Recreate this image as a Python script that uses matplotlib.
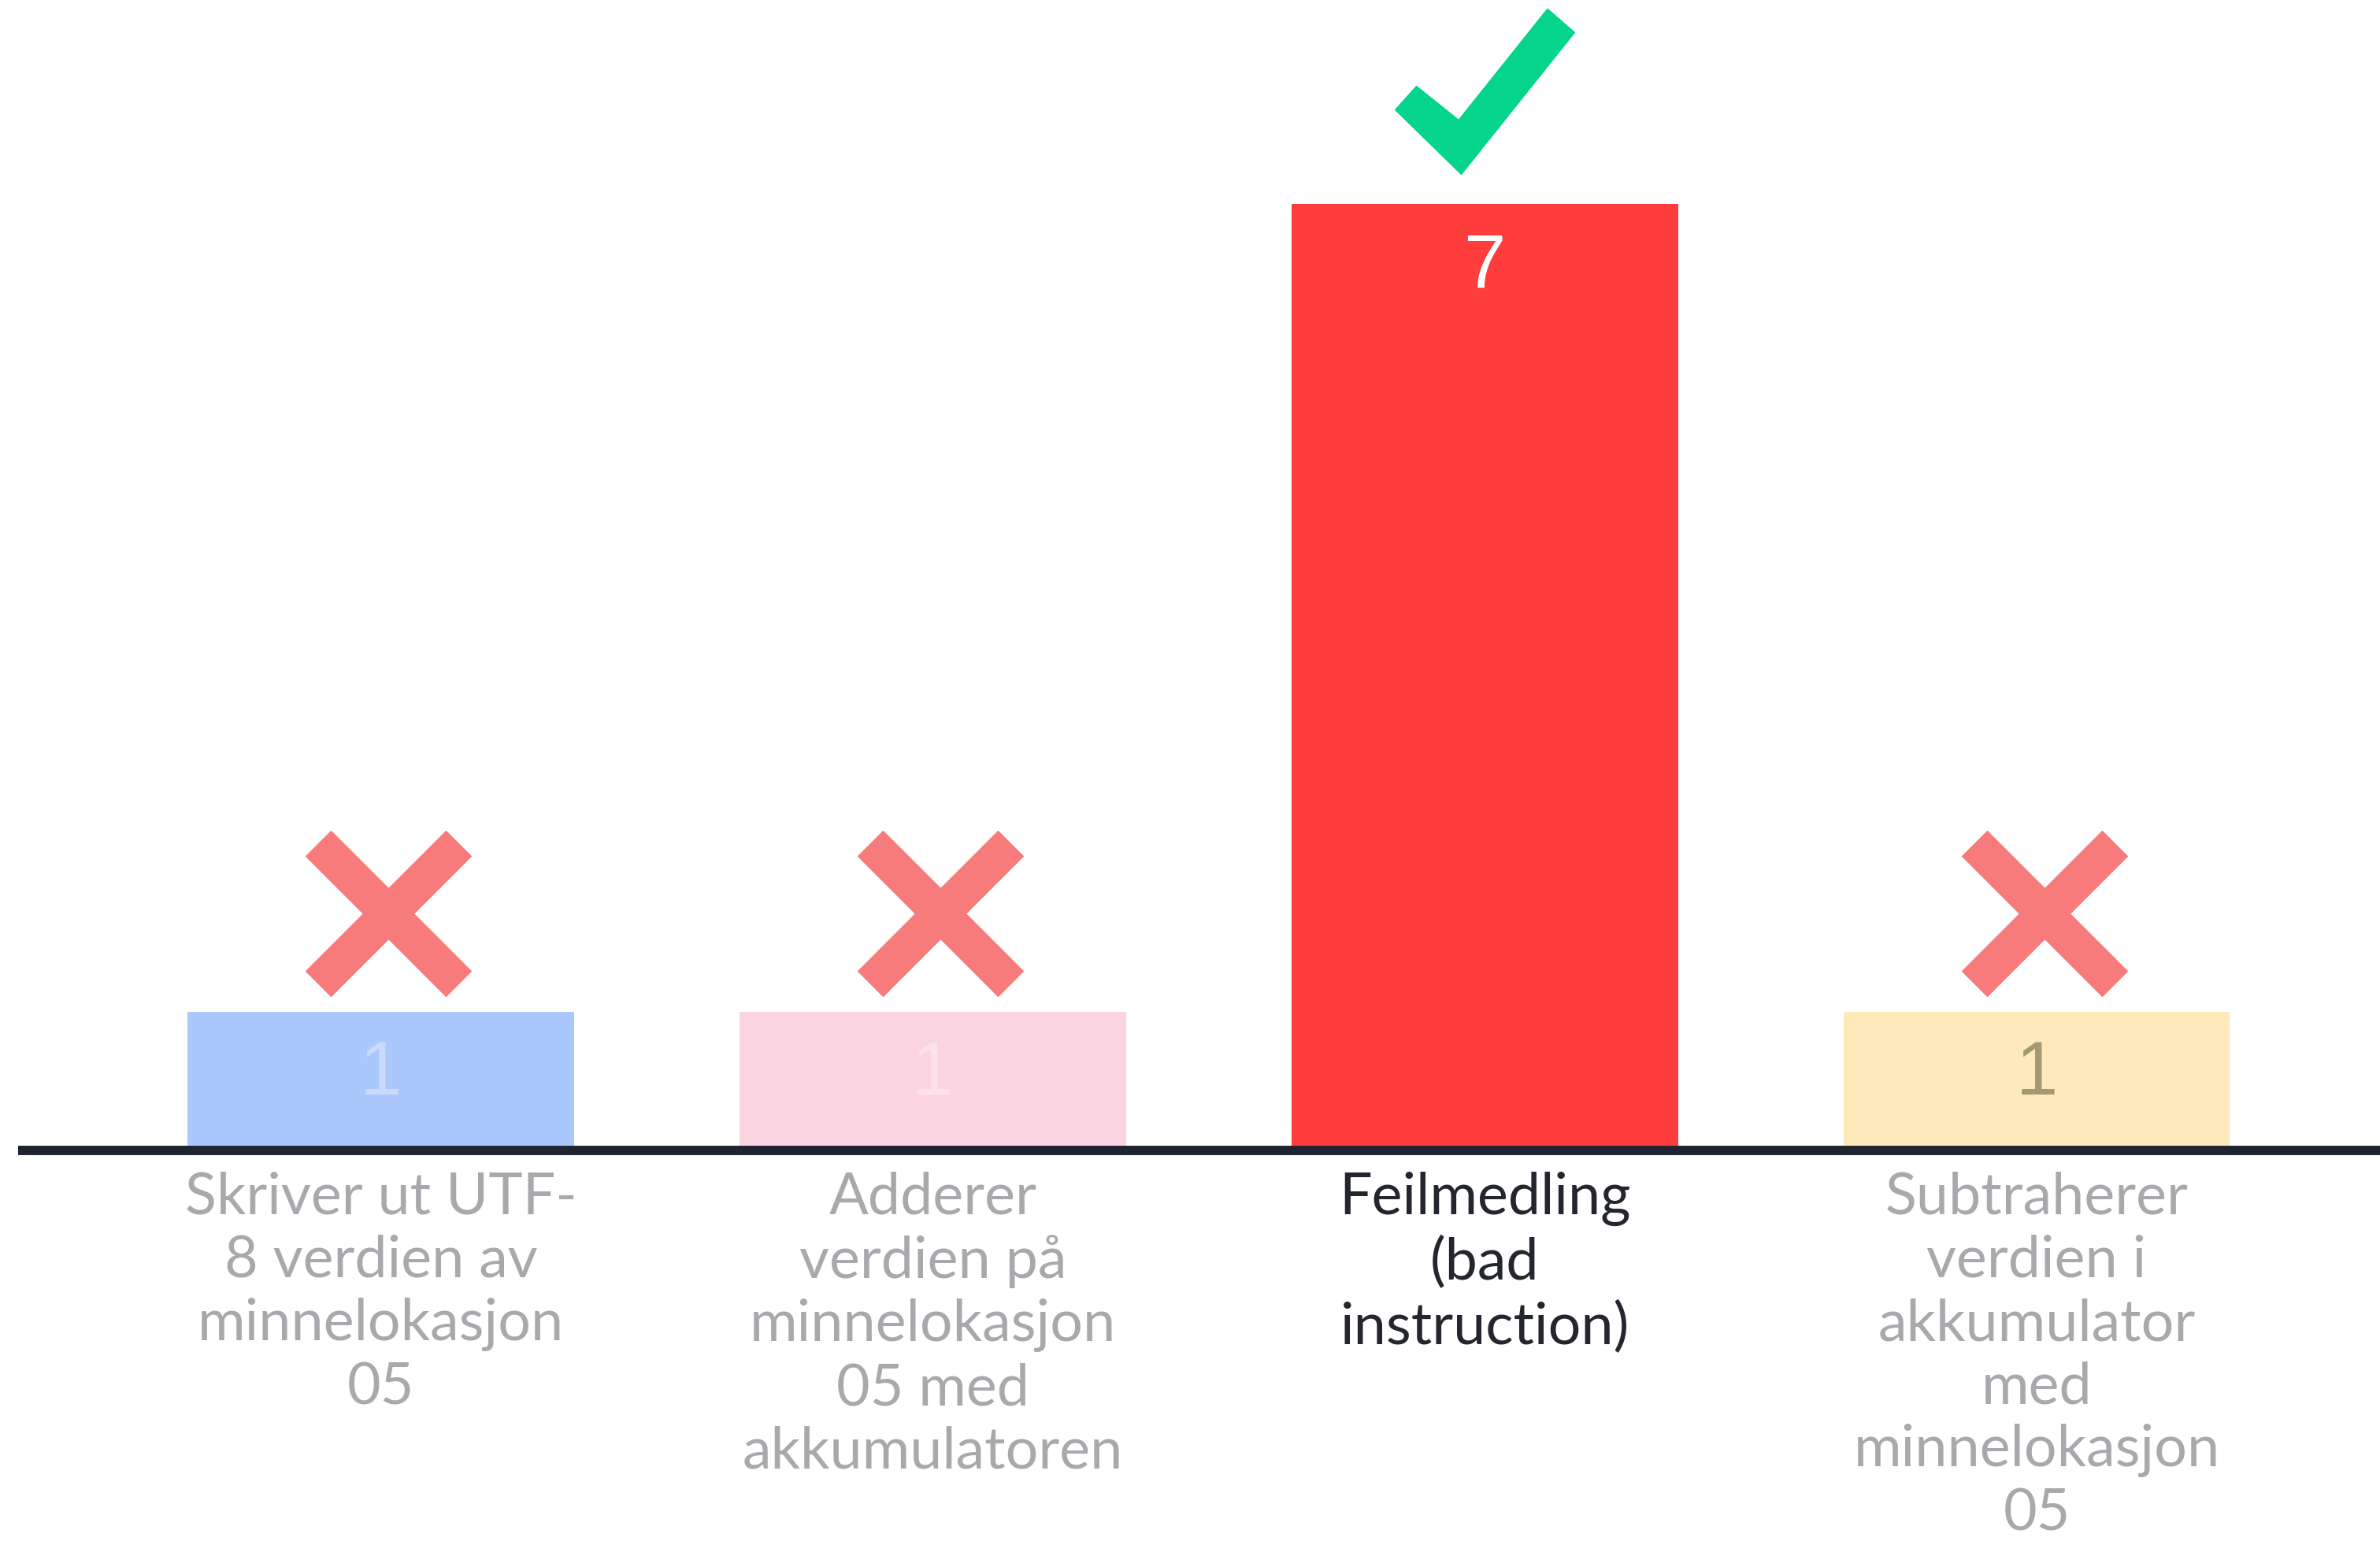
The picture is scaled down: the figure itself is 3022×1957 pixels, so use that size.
import matplotlib.pyplot as plt
from matplotlib.path import Path
from matplotlib.transforms import ScaledTranslation
import numpy as np

# data
labels = ["Skriver ut UTF-\n8 verdien av\nminnelokasjon\n05",
          "Adderer\nverdien på\nminnelokasjon\n05 med\nakkumulatoren",
          "Feilmedling\n(bad\ninstruction)",
          "Subtraherer\nverdien i\nakkumulator\nmed\nminnelokasjon\n05"]
votes = [1, 1, 7, 1]
correct = [False, False, True, False]

bar_colors = ["#abc8fc", "#fad4e1", "#ff3d3d", "#fde9b9"]
value_colors = ["#c9dafc", "#fbe2ea", "#ffffff", "#a39a72"]
label_colors = ["#a8a9ac", "#a8a9ac", "#23262e", "#a8a9ac"]

# marker shapes (X and check)
def x_marker():
    w, L = 0.215, 1.199
    rect = np.array([[-L/2, -w/2], [L/2, -w/2], [L/2, w/2], [-L/2, w/2], [-L/2, -w/2]])
    paths = []
    for ang in (45, -45):
        a = np.radians(ang)
        rot = np.array([[np.cos(a), -np.sin(a)], [np.sin(a), np.cos(a)]])
        paths.append(Path(rect @ rot.T, closed=True))
    return Path.make_compound_path(*paths)

def check_marker():
    v = [(-114, -23), (-87, 7), (-33.4, -36), (79.5, 105.3), (114, 75.3), (-30, -105), (-114, -23)]
    return Path(v, closed=True)

fig = plt.figure(figsize=(30.22, 19.58), dpi=100)
ax = fig.add_axes([23/3022, 501/1958, 1 - 23/3022, 1457/1958])

x = np.arange(len(votes))
ax.bar(x, votes, width=0.7, color=bar_colors, zorder=1)

ax.set_xlim(-0.657, 3.622)
ax.set_ylim(0, 1457/171)

for s in ax.spines.values():
    s.set_visible(False)
ax.set_yticks([])

# base line, a little below zero like the original
line_tr = ax.get_yaxis_transform() + ScaledTranslation(0, -0.05, fig.dpi_scale_trans)
ax.plot([0, 1], [0, 0], color="#1f2530", linewidth=8.6, solid_capstyle="butt",
        transform=line_tr, clip_on=False, zorder=3)

ax.set_xticks(x)
ax.set_xticklabels(labels, fontsize=53, family="Lato", linespacing=1.245)
ax.tick_params(axis="x", length=0, pad=22)
for t, c in zip(ax.get_xticklabels(), label_colors):
    t.set_color(c)

# value labels inside bars
for i, v in enumerate(votes):
    ax.annotate(str(v), (i, v), xytext=(0, -75), textcoords="offset points",
                ha="center", va="baseline", fontsize=69, family="Liberation Sans",
                color=value_colors[i], zorder=2)

# right / wrong markers above bars
xm = x_marker()
cm = check_marker()
for i, v in enumerate(votes):
    if correct[i]:
        tr = ax.transData + ScaledTranslation(0, 1.43, fig.dpi_scale_trans)
        ax.plot(i, v, marker=cm, markersize=164, color="#05d48b", linestyle="none",
                transform=tr, clip_on=False)
    else:
        tr = ax.transData + ScaledTranslation(0.10, 1.25, fig.dpi_scale_trans)
        ax.plot(i, v, marker=xm, markersize=151, color="#f87b7b", linestyle="none",
                transform=tr, clip_on=False)

fig.savefig("out.png", dpi=100, facecolor="white")
